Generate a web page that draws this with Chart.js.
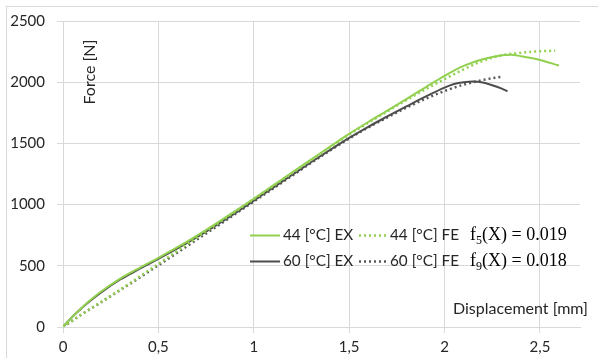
<!DOCTYPE html>
<html><head><meta charset="utf-8">
<script src="https://cdn.jsdelivr.net/npm/chart.js@4/dist/chart.umd.min.js"></script>
<style>html,body{margin:0;padding:0;background:#fff}#wrap{width:598px;height:358px;position:relative}</style>
</head><body><div id="wrap"><canvas id="c" width="598" height="358"></canvas></div>
<script>
// ---- data ----
const seriesLabels = ['44 [°C] EX', '44 [°C] FE', '60 [°C] EX', '60 [°C] FE'];
const disp44EX = [0,0.05,0.1,0.15,0.2,0.3,0.4,0.5,0.6,0.7,0.8,0.9,1.0,1.1,1.2,1.3,1.4,1.5,1.6,1.7,1.8,1.9,2.0,2.1,2.2,2.3,2.35,2.4,2.5,2.6];
const force44EX = [0,85,160,228,290,395,482,565,652,745,843,945,1048,1155,1262,1368,1474,1578,1675,1768,1862,1958,2052,2133,2187,2220,2225,2212,2182,2136];
const disp44FE = [0,0.1,0.2,0.3,0.4,0.5,0.6,0.7,0.8,0.9,1.0,1.1,1.2,1.3,1.4,1.5,1.6,1.7,1.8,1.9,2.0,2.1,2.2,2.3,2.4,2.5,2.58];
const force44FE = [0,105,205,305,410,516,622,728,834,940,1045,1150,1256,1362,1467,1572,1668,1762,1854,1942,2025,2105,2174,2220,2241,2253,2257];
const disp60EX = [0,0.05,0.1,0.15,0.2,0.3,0.4,0.5,0.6,0.7,0.8,0.9,1.0,1.1,1.2,1.3,1.4,1.5,1.6,1.7,1.8,1.9,2.0,2.05,2.1,2.15,2.2,2.25,2.3,2.33];
const force60EX = [0,85,158,223,283,388,474,557,642,732,828,928,1033,1137,1242,1346,1447,1545,1636,1720,1802,1882,1956,1985,2000,2006,1998,1975,1947,1925];
const disp60FE = [0,0.1,0.2,0.3,0.4,0.5,0.6,0.7,0.8,0.9,1.0,1.1,1.2,1.3,1.4,1.5,1.6,1.7,1.8,1.9,2.0,2.1,2.2,2.3];
const force60FE = [0,105,202,302,402,505,608,712,815,920,1025,1130,1235,1340,1442,1540,1630,1712,1792,1864,1928,1980,2018,2045];
const xTickValues = [0, 0.5, 1, 1.5, 2, 2.5];
const yTickValues = [0, 500, 1000, 1500, 2000, 2500];
const yAxisTitle = 'Force [N]';
const xAxisTitle = 'Displacement [mm]';
const fitLabels = [['5', '0.019'], ['9', '0.018']];

const pts = (xs, ys) => xs.map((x, i) => ({x, y: ys[i]}));
const GREEN = '#92d050', GRAY = '#4d4d4d', GRAYDOT = '#595959';

const datasets = [
  {label: seriesLabels[0], data: pts(disp44EX, force44EX), borderColor: GREEN, borderWidth: 2, borderDash: []},
  {label: seriesLabels[1], data: pts(disp44FE, force44FE), borderColor: GREEN, borderWidth: 2.5, borderDash: [2, 3]},
  {label: seriesLabels[2], data: pts(disp60EX, force60EX), borderColor: GRAY, borderWidth: 2, borderDash: []},
  {label: seriesLabels[3], data: pts(disp60FE, force60FE), borderColor: GRAYDOT, borderWidth: 2.5, borderDash: [2, 3]},
].map(d => Object.assign(d, {pointRadius: 0, fill: false, cubicInterpolationMode: 'monotone'}));

const framePlugin = {
  id: 'frame',
  beforeDraw(chart) {
    const c = chart.ctx;
    c.save();
    c.fillStyle = '#fff';
    c.fillRect(0, 0, chart.width, chart.height);
    c.strokeStyle = '#d9d9d9';
    c.lineWidth = 1;
    c.strokeRect(6.5, 6.5, chart.width, chart.height);
    c.restore();
  }
};

const annoPlugin = {
  id: 'anno',
  afterDraw(chart) {
    const c = chart.ctx;
    c.save();
    c.fillStyle = '#262626';
    c.font = '16px Lato';
    // axis titles
    c.save();
    c.translate(90, 72);
    c.rotate(-Math.PI / 2);
    c.textAlign = 'center';
    c.textBaseline = 'middle';
    c.fillText(yAxisTitle, 0, 0);
    c.restore();
    c.textAlign = 'left';
    c.textBaseline = 'middle';
    c.fillText(xAxisTitle, 453, 309);
    // legend
    const colX = [250, 359];
    const rowY = [235, 261];
    chart.data.datasets.forEach((ds, i) => {
      const col = i % 2, row = Math.floor(i / 2);
      const x0 = colX[col], y = rowY[row];
      const len = col === 0 ? 30 : 28;
      c.save();
      c.strokeStyle = ds.borderColor;
      c.lineWidth = ds.borderWidth;
      c.setLineDash(ds.borderDash);
      c.beginPath();
      c.moveTo(x0, y + 0.5);
      c.lineTo(x0 + len, y + 0.5);
      c.stroke();
      c.restore();
      c.fillStyle = '#262626';
      c.font = '15.3px Lato';
      c.fillText(ds.label, x0 + len + 3, y);
    });
    // fit formulas
    c.fillStyle = '#000';
    fitLabels.forEach((f, r) => {
      const y = rowY[r] + 5;
      let x = 470;
      c.textBaseline = 'alphabetic';
      c.font = '18px "Liberation Serif"';
      c.fillText('f', x, y); x += c.measureText('f').width;
      c.font = '12px "Liberation Serif"';
      c.fillText(f[0], x, y + 4); x += c.measureText(f[0]).width;
      c.font = '18px "Liberation Serif"';
      c.fillText('(X) = ' + f[1], x, y);
    });
    c.restore();
  }
};

new Chart(document.getElementById('c'), {
  type: 'line',
  data: {datasets},
  options: {
    responsive: false,
    devicePixelRatio: 1,
    animation: false,
    layout: {padding: {left: 0, right: 18, top: 18, bottom: 0}},
    plugins: {legend: {display: false}, tooltip: {enabled: false}},
    scales: {
      x: {
        type: 'linear', min: 0, max: 2.71,
        afterBuildTicks: s => { s.ticks = xTickValues.map(v => ({value: v})); },
        afterFit: s => { s.height = 31; },
        grid: {color: '#d9d9d9', tickLength: 6, lineWidth: 1},
        border: {color: '#d9d9d9'},
        ticks: {color: '#262626', font: {family: 'Lato', size: 15}, padding: 5,
          maxRotation: 0, autoSkip: false,
          callback: v => String(v).replace('.', ',')}
      },
      y: {
        min: 0, max: 2500,
        afterBuildTicks: s => { s.ticks = yTickValues.map(v => ({value: v})); },
        afterFit: s => { s.width = 63; },
        grid: {color: '#d9d9d9', tickLength: 6, lineWidth: 1},
        border: {color: '#d9d9d9'},
        ticks: {color: '#262626', font: {family: 'Lato', size: 15}, padding: 12,
          callback: v => String(v)}
      }
    }
  },
  plugins: [framePlugin, annoPlugin]
});
</script></body></html>
